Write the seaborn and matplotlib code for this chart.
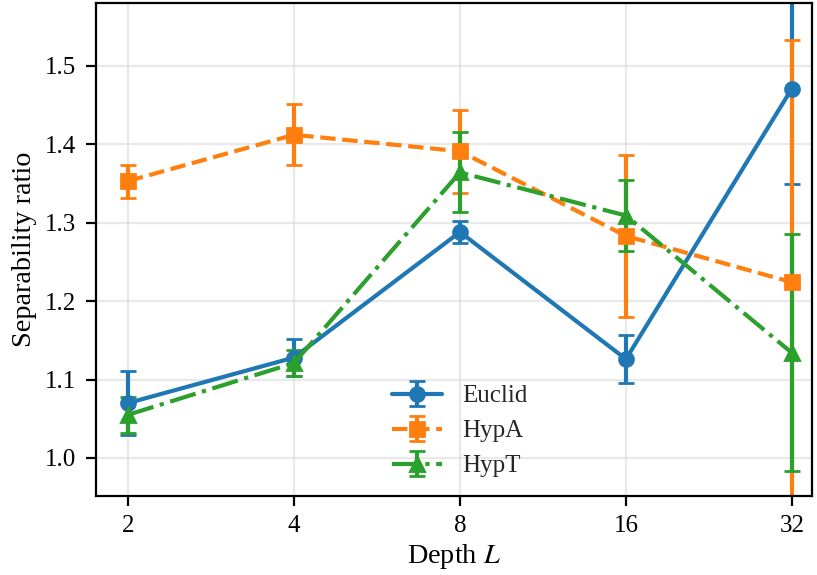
import numpy as np
import pandas as pd
import matplotlib
matplotlib.use("Agg")
import matplotlib.pyplot as plt
import seaborn as sns
from matplotlib.ticker import FixedLocator, FixedFormatter, NullLocator

depths = [2, 4, 8, 16, 32]
depth_labels = ["2", "4", "8", "16", "32"]

euclid_mean = [1.070, 1.128, 1.288, 1.126, 1.471]
euclid_err = [0.041, 0.024, 0.014, 0.031, 0.122]
hypa_mean = [1.353, 1.412, 1.391, 1.283, 1.224]
hypa_err = [0.021, 0.039, 0.053, 0.103, 0.309]
hypt_mean = [1.055, 1.121, 1.364, 1.309, 1.134]
hypt_err = [0.023, 0.016, 0.051, 0.045, 0.151]

series = ["Euclid", "HypA", "HypT"]
means = [euclid_mean, hypa_mean, hypt_mean]
errs = [euclid_err, hypa_err, hypt_err]
markers = ["o", "s", "^"]
linestyles = ["-", "--", "-."]

sns.set_theme(style="ticks")
plt.rcParams["font.family"] = ["Liberation Serif", "DejaVu Serif"]
plt.rcParams["mathtext.fontset"] = "stix"
plt.rcParams["font.size"] = 9

colors = sns.color_palette("tab10", 3)

fig = plt.figure(figsize=(817 / 200, 575 / 200), dpi=200)
ax = fig.add_axes([96 / 817, 1 - 496 / 575, (812 - 96) / 817, (496 - 3) / 575])

for name, m, e, mk, ls, c in zip(series, means, errs, markers, linestyles, colors):
    ax.errorbar(depths, m, yerr=e, marker=mk, linestyle=ls, color=c,
                capsize=3, label=name, linewidth=1.5, markersize=5)

ax.set_xscale("log", base=2)
ax.xaxis.set_major_locator(FixedLocator(depths))
ax.xaxis.set_major_formatter(FixedFormatter(depth_labels))
ax.xaxis.set_minor_locator(NullLocator())
ax.set_xlim(1.75, 34.8)
ax.set_ylim(0.9515, 1.58)
ax.set_yticks([1.0, 1.1, 1.2, 1.3, 1.4, 1.5])

ax.grid(True, color="#d5d5d5", alpha=0.5, linewidth=0.8)
for s in ax.spines.values():
    s.set_linewidth(0.8)
    s.set_color("black")
ax.tick_params(labelsize=9, length=3.5, width=0.8, color="black", labelcolor="black")

ax.set_xlabel("Depth $L$", fontsize=10.2, color="black", labelpad=1.5)
ax.set_ylabel("Separability ratio", fontsize=10.2, color="black", labelpad=3)

ax.legend(loc="lower center", frameon=False, fontsize=9, bbox_to_anchor=(0.508, -0.008))

fig.savefig("out.png", dpi=200)
